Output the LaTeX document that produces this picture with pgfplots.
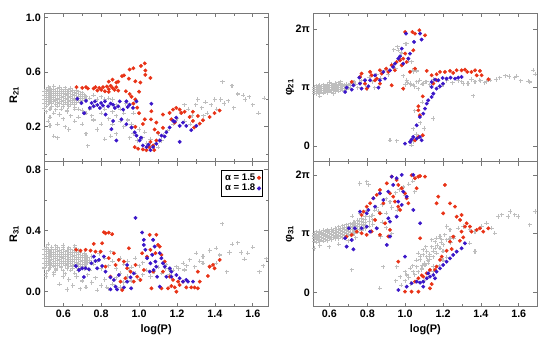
\documentclass[border=0pt]{standalone}
\usepackage{fontspec}
\setmainfont{Liberation Sans}
\usepackage{pgfplots}
\pgfplotsset{compat=1.18}

\definecolor{ptgray}{RGB}{190,190,190}
\definecolor{ptred}{RGB}{232,50,22}
\definecolor{ptblue}{RGB}{58,22,200}
\definecolor{framec}{RGB}{120,120,120}

\pgfplotsset{
  panel/.style={scale only axis, anchor=south west,
    axis line style={framec, line width=0.8bp},
    every tick/.style={framec, line width=0.7bp},
    major tick length=4bp, minor tick length=2.5bp,
    xtick={0.6,0.8,1.0,1.2,1.4,1.6},
    minor xtick={0.5,0.7,0.9,1.1,1.3,1.5,1.7},
    tick label style={font=\fontsize{10.8}{12}\selectfont\bfseries},
    label style={font=\fontsize{11}{12}\selectfont\bfseries},
    /pgf/number format/assume math mode=true,
    /pgf/number format/fixed, /pgf/number format/fixed zerofill,
    /pgf/number format/precision=1,
  },
  gr/.style={only marks, mark=+, mark size=2.1bp, color=ptgray,
    mark options={line width=1.05bp}, forget plot},
  rd/.style={only marks, mark=*, mark size=1.75bp, color=ptred,
    mark options={draw=ptred, fill=ptred}},
  bl/.style={only marks, mark=*, mark size=1.75bp, color=ptblue,
    mark options={draw=ptblue, fill=ptblue}},
}

\begin{document}
\begin{tikzpicture}
\path[use as bounding box] (0,0) rectangle (560bp,350bp);

% ---------------- R21 ----------------
\begin{axis}[panel, at={(44.3bp,188.3bp)}, width=223.7bp, height=148.4bp,
  xmin=0.5, xmax=1.68, ymin=-0.055, ymax=1.03,
  ytick={0.2,0.6,1.0}, minor ytick={0,0.4,0.8}, xticklabels={},
  ylabel={R\textsubscript{21}},
  ylabel style={at={(axis description cs:-0.135,0.45)}, anchor=center}]
\addplot[gr] coordinates {
(0.52,0.49)(0.55,0.495)(0.58,0.49)(0.61,0.485)(0.64,0.48)
(0.51,0.475)(0.53,0.48)(0.55,0.475)(0.57,0.478)(0.59,0.472)(0.61,0.476)(0.63,0.47)(0.65,0.468)(0.67,0.465)
(0.50,0.46)(0.52,0.462)(0.54,0.458)(0.56,0.46)(0.58,0.455)(0.60,0.46)(0.62,0.455)(0.64,0.458)(0.66,0.452)(0.68,0.455)(0.70,0.45)
(0.51,0.445)(0.53,0.44)(0.55,0.447)(0.57,0.442)(0.59,0.445)(0.61,0.44)(0.63,0.444)(0.65,0.438)(0.67,0.442)(0.69,0.438)(0.71,0.435)
(0.50,0.43)(0.52,0.428)(0.54,0.432)(0.56,0.427)(0.58,0.43)(0.60,0.425)(0.62,0.43)(0.64,0.425)(0.66,0.428)(0.68,0.422)(0.70,0.425)(0.72,0.42)
(0.51,0.415)(0.53,0.412)(0.55,0.416)(0.57,0.41)(0.59,0.414)(0.61,0.41)(0.63,0.413)(0.65,0.408)(0.67,0.41)(0.69,0.405)(0.71,0.408)
(0.50,0.40)(0.52,0.398)(0.54,0.402)(0.56,0.396)(0.58,0.40)(0.60,0.395)(0.62,0.398)(0.64,0.393)(0.66,0.396)(0.68,0.392)(0.70,0.39)
(0.51,0.385)(0.53,0.382)(0.55,0.386)(0.57,0.38)(0.59,0.384)(0.61,0.378)(0.63,0.382)(0.65,0.376)(0.67,0.379)(0.69,0.375)
(0.50,0.37)(0.52,0.366)(0.54,0.37)(0.56,0.364)(0.58,0.368)(0.60,0.362)(0.62,0.366)(0.64,0.36)(0.66,0.362)
(0.51,0.352)(0.54,0.348)(0.57,0.35)(0.60,0.346)(0.63,0.348)(0.66,0.342)
(0.50,0.335)(0.53,0.33)(0.56,0.325)(0.59,0.33)(0.62,0.322)(0.68,0.33)
(0.51,0.31)(0.55,0.30)(0.53,0.27)(0.58,0.29)(0.62,0.31)(0.66,0.33)(0.70,0.32)(0.52,0.24)(0.57,0.22)(0.60,0.26)
(0.64,0.28)(0.68,0.27)(0.72,0.30)(0.75,0.28)(0.55,0.13)(0.57,0.12)(0.63,0.18)(0.70,0.22)(0.72,0.15)(0.73,0.06)
(0.78,0.18)(0.80,0.22)(0.76,0.25)(0.53,0.21)(0.61,0.20)(0.66,0.24)
(0.72,0.40)(0.74,0.41)(0.76,0.43)(0.78,0.40)(0.80,0.42)(0.82,0.40)(0.84,0.41)(0.86,0.40)(0.78,0.36)(0.82,0.33)
(0.86,0.31)(0.88,0.28)(0.90,0.33)(0.92,0.30)(0.94,0.25)(0.96,0.22)(0.98,0.20)(0.90,0.24)(0.92,0.20)(0.86,0.22)
(0.84,0.26)(0.82,0.11)(0.85,0.13)(0.88,0.15)(0.95,0.12)(0.97,0.15)(0.99,0.10)(1.00,0.18)(1.02,0.12)(1.04,0.08)
(1.06,0.05)(1.08,0.07)(1.10,0.05)(1.12,0.10)(1.13,0.14)(1.15,0.17)(1.10,0.15)(0.76,0.35)(0.93,0.37)(0.97,0.30)
(0.80,0.30)(0.74,0.33)(0.88,0.36)(1.03,0.16)(1.06,0.11)
(1.18,0.22)(1.20,0.26)(1.22,0.30)(1.24,0.24)(1.26,0.33)(1.28,0.28)(1.30,0.36)(1.31,0.40)(1.33,0.34)(1.35,0.38)
(1.36,0.30)(1.38,0.36)(1.40,0.40)(1.41,0.33)(1.43,0.40)(1.44,0.53)(1.45,0.37)(1.47,0.39)(1.49,0.50)(1.50,0.34)
(1.52,0.44)(1.55,0.43)(1.56,0.40)(1.58,0.42)(1.60,0.36)(1.63,0.30)(1.66,0.41)(1.34,0.28)(1.27,0.22)(1.24,0.36)
};
\addplot[rd] coordinates {
(0.67,0.49)(0.70,0.485)(0.72,0.49)(0.73,0.48)(0.76,0.48)(0.77,0.49)(0.79,0.485)(0.80,0.47)(0.81,0.49)(0.82,0.46)
(0.83,0.495)(0.84,0.475)(0.85,0.50)(0.86,0.485)(0.87,0.47)(0.88,0.49)(0.89,0.465)(0.78,0.465)(0.84,0.455)(0.88,0.524)
(0.84,0.53)(0.86,0.545)(0.89,0.53)(0.91,0.571)(0.92,0.576)(0.95,0.619)(0.946,0.552)(0.97,0.628)(0.98,0.533)(1.01,0.645)
(1.007,0.524)(1.03,0.664)(1.033,0.612)(1.033,0.58)(1.06,0.557)(0.93,0.46)(0.95,0.44)(0.96,0.42)(0.98,0.40)(0.97,0.37)
(0.99,0.34)(1.00,0.457)(1.065,0.314)(1.063,0.254)(1.03,0.255)(1.00,0.30)(1.02,0.22)(0.98,0.20)(0.977,0.052)(0.995,0.04)
(1.02,0.035)(1.039,0.029)(1.053,0.052)(1.074,0.064)(1.091,0.10)(1.06,0.09)(1.08,0.03)(1.082,0.181)(1.10,0.157)(1.126,0.193)
(1.091,0.231)(1.126,0.29)(1.161,0.302)(1.179,0.326)(1.196,0.338)(1.214,0.326)(1.223,0.302)(1.24,0.31)(1.284,0.31)(1.31,0.279)
(1.337,0.248)(1.32,0.224)(1.372,0.272)(1.398,0.30)(1.425,0.319)(1.17,0.255)(1.188,0.231)(1.267,0.272)(1.284,0.243)(1.29,0.195)
};
\addplot[bl] coordinates {
(0.674,0.405)(0.696,0.374)(0.72,0.39)(0.74,0.338)(0.75,0.374)(0.767,0.386)(0.793,0.338)(0.80,0.374)(0.82,0.386)(0.837,0.35)
(0.863,0.362)(0.872,0.338)(0.89,0.35)(0.898,0.386)(0.916,0.326)(0.933,0.386)(0.95,0.362)(0.968,0.338)(0.986,0.386)(1.065,0.369)
(0.71,0.30)(0.823,0.29)(0.863,0.243)(0.854,0.183)(0.88,0.10)(0.907,0.255)(0.933,0.219)(0.96,0.195)(0.977,0.16)(0.986,0.136)
(1.003,0.10)(1.02,0.064)(1.039,0.052)(1.05,0.07)(1.074,0.052)(1.091,0.076)(1.109,0.10)(1.118,0.136)(1.135,0.129)(1.144,0.16)
(1.161,0.195)(1.188,0.238)(1.214,0.207)(1.232,0.231)(1.249,0.207)(1.275,0.176)(1.302,0.207)(1.214,0.09)(1.196,0.267)(1.18,0.243)
(0.78,0.36)(0.81,0.355)(0.85,0.37)(0.76,0.35)(0.94,0.345)(1.01,0.12)(1.06,0.03)
};
\end{axis}

% ---------------- R31 ----------------
\begin{axis}[panel, at={(44.3bp,43.3bp)}, width=223.7bp, height=145bp,
  xmin=0.5, xmax=1.68, ymin=-0.098, ymax=0.85,
  ytick={0,0.4,0.8}, minor ytick={0.2,0.6},
  xlabel={log(P)}, ylabel={R\textsubscript{31}},
  xlabel style={at={(axis description cs:0.5,0)}, anchor=center, yshift=-23bp},
  ylabel style={at={(axis description cs:-0.135,0.5)}, anchor=center},
  legend style={at={(0.978,0.943)}, anchor=north east, draw=black, line width=0.6bp,
    font=\fontsize{9.6}{10.5}\selectfont\bfseries, inner xsep=2bp, inner ysep=1.5bp,
    row sep=-1.5bp},
  legend plot pos=right, legend cell align=left]
\addplot[gr] coordinates {
(0.51,0.29)(0.54,0.292)(0.57,0.288)(0.60,0.29)(0.63,0.286)(0.66,0.288)
(0.50,0.275)(0.52,0.278)(0.54,0.273)(0.56,0.276)(0.58,0.272)(0.60,0.275)(0.62,0.27)(0.64,0.273)(0.66,0.268)(0.68,0.27)
(0.51,0.26)(0.53,0.262)(0.55,0.258)(0.57,0.261)(0.59,0.257)(0.61,0.26)(0.63,0.256)(0.65,0.258)(0.67,0.254)(0.69,0.256)(0.71,0.252)
(0.50,0.245)(0.52,0.247)(0.54,0.243)(0.56,0.246)(0.58,0.242)(0.60,0.245)(0.62,0.241)(0.64,0.243)(0.66,0.239)(0.68,0.241)(0.70,0.237)(0.72,0.238)
(0.51,0.23)(0.53,0.232)(0.55,0.228)(0.57,0.231)(0.59,0.227)(0.61,0.23)(0.63,0.226)(0.65,0.228)(0.67,0.224)(0.69,0.226)(0.71,0.222)(0.73,0.223)
(0.50,0.215)(0.52,0.217)(0.54,0.213)(0.56,0.216)(0.58,0.212)(0.60,0.215)(0.62,0.211)(0.64,0.213)(0.66,0.209)(0.68,0.211)(0.70,0.207)(0.72,0.209)(0.74,0.205)
(0.51,0.20)(0.53,0.202)(0.55,0.198)(0.57,0.201)(0.59,0.197)(0.61,0.20)(0.63,0.196)(0.65,0.198)(0.67,0.194)(0.69,0.196)(0.71,0.192)(0.73,0.193)
(0.50,0.185)(0.52,0.187)(0.54,0.183)(0.56,0.186)(0.58,0.182)(0.60,0.185)(0.62,0.181)(0.64,0.183)(0.66,0.179)(0.68,0.181)(0.70,0.177)(0.72,0.178)
(0.51,0.17)(0.53,0.172)(0.55,0.168)(0.57,0.171)(0.59,0.167)(0.61,0.17)(0.63,0.166)(0.65,0.168)(0.67,0.164)(0.69,0.166)(0.71,0.162)
(0.50,0.155)(0.53,0.157)(0.56,0.153)(0.59,0.156)(0.62,0.152)(0.65,0.154)(0.68,0.15)(0.71,0.152)
(0.52,0.14)(0.56,0.142)(0.60,0.138)(0.64,0.14)(0.68,0.136)
(0.51,0.12)(0.55,0.123)(0.61,0.118)(0.66,0.12)
(0.52,0.31)(0.56,0.30)(0.60,0.305)(0.66,0.30)(0.51,0.10)(0.55,0.11)(0.60,0.10)(0.63,0.08)(0.67,0.10)(0.70,0.07)
(0.58,0.05)(0.65,0.04)(0.72,0.03)(0.75,0.06)(0.77,0.09)(0.80,0.04)(0.82,0.08)(0.84,0.02)(0.86,0.05)(0.88,0.09)
(0.90,0.03)(0.92,0.06)(0.94,0.10)(0.96,0.07)(0.98,0.12)(1.00,0.08)(1.02,0.11)(1.04,0.14)(1.06,0.10)(1.08,0.13)
(1.10,0.16)(1.12,0.12)(1.14,0.15)(1.16,0.11)(1.18,0.14)(0.74,0.14)(0.76,0.18)(0.78,0.20)(0.80,0.15)(0.82,0.22)
(0.84,0.17)(0.86,0.20)(0.88,0.15)(0.90,0.22)(0.92,0.18)(0.94,0.20)(0.96,0.16)(0.98,0.22)(1.00,0.17)(0.79,0.25)
(0.85,0.26)(0.75,0.23)(0.73,0.11)(0.90,0.12)(0.95,0.14)(0.62,0.015)(0.69,0.02)(0.78,0.01)(0.83,0.03)(1.02,0.19)
(1.439,0.444)(1.491,0.311)(1.521,0.321)(1.574,0.252)(1.407,0.285)(1.372,0.269)(1.425,0.24)(1.477,0.256)(1.539,0.256)(1.556,0.212)
(1.463,0.131)(1.635,0.131)(1.671,0.216)(1.302,0.252)(1.337,0.23)(1.267,0.208)(1.232,0.186)(1.197,0.164)(1.337,0.186)(1.293,0.164)
(1.24,0.142)(1.372,0.164)(1.407,0.186)(1.162,0.142)(1.144,0.175)(1.25,0.17)(1.32,0.2)(1.21,0.15)(1.6,0.29)(1.655,0.17)
};
\addplot[rd] coordinates {
(0.668,0.274)(0.691,0.269)(0.718,0.274)(0.744,0.269)(0.77,0.262)(0.797,0.262)(0.814,0.389)(0.823,0.382)(0.84,0.386)(0.858,0.376)
(0.761,0.313)(0.805,0.317)(0.946,0.284)(0.867,0.251)(0.84,0.219)(0.823,0.164)(0.876,0.175)(0.893,0.208)(0.92,0.197)(0.937,0.153)
(0.955,0.131)(0.911,0.011)(0.972,0.066)(0.99,0.098)(0.981,0.175)(1.025,0.142)(1.007,0.077)(1.042,0.229)(1.016,0.252)(0.902,0.066)
(0.928,0.088)(0.849,0.098)(1.056,0.372)(1.091,0.372)(1.10,0.306)(1.109,0.295)(1.118,0.241)(1.135,0.197)(1.074,0.131)(1.065,0.022)
(1.118,0.022)(1.153,0.022)(1.17,0.037)(1.188,0.028)(1.197,0.0)(1.162,0.098)(1.179,0.077)(1.214,0.044)(1.232,0.066)(1.249,0.028)
(1.275,0.028)(1.293,0.028)(1.31,0.022)(1.31,0.131)(1.32,0.066)(1.363,0.103)(1.372,0.164)(1.39,0.175)(1.398,0.153)(1.425,0.208)
(1.206,0.066)(1.126,0.131)(1.06,0.274)(1.086,0.252)
};
\addlegendentry{α = 1.5}
\addplot[bl] coordinates {
(0.667,0.168)(0.683,0.142)(0.70,0.153)(0.718,0.153)(0.735,0.147)(0.709,0.096)(0.748,0.186)(0.77,0.201)(0.788,0.208)(0.805,0.168)
(0.779,0.153)(0.823,0.131)(0.849,0.094)(0.867,0.077)(0.876,0.033)(0.884,0.015)(0.849,0.015)(0.92,0.028)(0.937,0.066)(0.955,0.094)
(0.972,0.12)(0.981,0.483)(1.016,0.387)(1.025,0.306)(1.033,0.274)(1.042,0.219)(1.06,0.186)(1.077,0.142)(1.095,0.098)(1.086,0.197)
(1.069,0.241)(1.025,0.339)(0.937,0.175)(0.893,0.109)(0.814,0.23)(0.761,0.23)(0.958,0.022)(1.074,0.339)(1.082,0.295)(1.109,0.252)
(1.118,0.219)(1.126,0.186)(1.135,0.164)(1.162,0.153)(1.17,0.131)(1.17,0.098)(1.197,0.109)(1.214,0.088)(1.232,0.066)(1.249,0.077)
(1.258,0.066)(1.284,0.066)(1.144,0.098)(1.109,0.033)(1.056,0.131)(1.091,0.164)
};
\addlegendentry{α = 1.8}
\end{axis}

% ---------------- phi21 (y in units of pi) ----------------
\begin{axis}[panel, at={(313.3bp,188.3bp)}, width=224bp, height=148.4bp,
  xmin=0.515, xmax=1.698, ymin=-0.27, ymax=2.274,
  ytick={0,1,2}, yticklabels={0,π,2π}, xticklabels={},
  ylabel={φ\textsubscript{21}},
  ylabel style={at={(axis description cs:-0.104,0.5)}, anchor=center}]
\addplot[gr] coordinates {
(0.51,0.884)(0.51,0.919)(0.51,0.954)(0.51,0.989)(0.51,1.024)
(0.53,0.892)(0.53,0.927)(0.53,0.962)(0.53,0.997)(0.53,1.032)
(0.55,0.90)(0.55,0.935)(0.55,0.97)(0.55,1.005)(0.55,1.04)
(0.57,0.908)(0.57,0.943)(0.57,0.978)(0.57,1.013)(0.57,1.048)
(0.59,0.916)(0.59,0.951)(0.59,0.986)(0.59,1.021)(0.59,1.056)
(0.61,0.924)(0.61,0.959)(0.61,0.994)(0.61,1.029)(0.61,1.064)
(0.63,0.932)(0.63,0.967)(0.63,1.002)(0.63,1.037)(0.63,1.072)
(0.65,0.94)(0.65,0.975)(0.65,1.01)(0.65,1.045)(0.65,1.08)
(0.67,0.958)(0.67,0.99)(0.67,1.018)(0.67,1.05)
(0.69,0.97)(0.69,1.00)(0.69,1.03)(0.69,1.06)
(0.71,0.99)(0.71,1.034)(0.71,1.07)
(0.50,0.898)(0.50,0.933)(0.50,0.967)(0.50,1.002)
(0.52,0.906)(0.52,0.941)(0.52,0.975)(0.52,1.01)
(0.54,0.914)(0.54,0.949)(0.54,0.983)(0.54,1.018)
(0.56,0.922)(0.56,0.957)(0.56,0.991)(0.56,1.026)
(0.58,0.93)(0.58,0.965)(0.58,0.999)(0.58,1.034)
(0.60,0.938)(0.60,0.973)(0.60,1.007)(0.60,1.042)
(0.62,0.946)(0.62,0.981)(0.62,1.015)(0.62,1.05)
(0.64,0.954)(0.64,0.989)(0.64,1.023)(0.64,1.058)
(0.66,0.962)(0.66,0.997)(0.66,1.031)(0.66,1.066)
(0.68,0.99)(0.68,1.039)(0.70,1.00)(0.70,1.05)
(0.55,0.85)(0.62,0.90)(0.72,1.08)(0.74,1.06)(0.60,1.09)(0.66,1.10)
(0.73,1.10)(0.75,1.00)(0.77,1.12)(0.79,1.05)(0.81,1.18)(0.83,1.10)(0.85,1.22)(0.87,1.16)(0.89,1.30)(0.91,1.22)
(0.93,1.40)(0.95,1.32)(0.97,1.50)(0.96,1.70)(0.94,1.65)(0.98,1.60)(1.00,1.75)(1.02,1.45)(1.04,1.30)(1.06,1.28)
(0.99,1.20)(1.01,1.08)(1.03,1.05)(1.05,1.02)(1.07,1.10)(1.09,1.06)(1.11,1.10)(1.13,1.05)(0.99,0.98)(1.00,1.05)
(0.76,1.08)(0.80,0.98)(0.84,1.00)(0.964,1.64)(0.982,1.583)(1.008,1.754)(1.034,1.44)(1.043,1.27)(1.061,1.297)(1.008,1.126)
(1.026,1.069)(1.043,1.04)(1.061,1.097)(1.078,1.126)(1.096,1.069)(1.114,1.097)(1.07,0.983)
(1.20,1.05)(1.25,1.08)(1.30,1.10)(1.33,1.07)(1.37,1.10)(1.40,1.12)(1.43,1.10)(1.45,1.13)(1.48,1.14)(1.50,1.17)
(1.53,1.20)(1.55,1.19)(1.58,1.17)(1.61,1.12)(1.65,1.11)(1.677,1.297)(1.686,1.229)(1.36,0.86)(1.28,1.12)(1.22,1.12)
(1.15,1.14)(1.35,1.14)(1.42,1.08)(1.18,1.02)(1.307,1.069)(1.589,1.194)(1.659,1.096)(1.334,1.069)(1.369,1.097)(1.395,1.126)
(1.05,0.60)(1.08,0.40)(1.10,0.30)(1.149,0.469)(1.043,0.297)(1.034,0.011)(1.043,0.069)(0.92,0.097)(0.955,0.086)(1.06,0.20)(1.09,0.75)
};
\addplot[rd] coordinates {
(0.718,1.097)(0.762,1.183)(0.77,1.24)(0.815,1.27)(0.823,1.21)(0.85,1.154)(0.867,1.297)(0.876,1.24)(0.90,1.326)(0.911,1.27)
(0.929,1.383)(0.946,1.297)(0.955,1.44)(0.973,1.469)(0.982,1.383)(0.99,1.497)(1.008,1.44)(1.00,1.583)(1.026,1.27)(1.052,1.326)
(0.99,0.983)(0.929,1.04)(0.797,0.983)(0.841,1.126)(0.788,1.069)(0.867,1.069)
(1.00,1.954)(1.038,1.954)(1.052,1.926)(1.075,1.983)(1.105,1.897)(1.043,1.64)
(1.114,1.286)(1.14,1.211)(1.166,1.229)(1.184,1.269)(1.21,1.269)(1.237,1.286)(1.254,1.251)(1.272,1.297)(1.298,1.297)(1.316,1.309)
(1.328,1.269)(1.35,1.269)(1.378,1.211)(1.404,1.211)(1.44,1.143)(1.395,1.286)(1.369,1.297)
(1.093,0.851)(1.07,0.68)(1.07,0.611)(1.078,0.526)(1.093,0.183)(1.07,0.154)(1.052,0.097)(1.149,1.069)(1.166,1.126)
};
\addplot[bl] coordinates {
(0.683,0.926)(0.691,1.00)(0.718,0.966)(0.727,1.04)(0.758,1.171)(0.762,1.069)(0.77,0.983)(0.788,1.126)(0.806,1.023)(0.815,1.126)
(0.841,1.211)(0.859,1.00)(0.867,1.126)(0.885,1.269)(0.894,1.154)(0.92,1.297)(0.937,1.354)(0.946,1.411)(0.964,1.497)(0.973,1.537)
(0.99,1.411)(1.017,1.497)(0.982,1.669)(1.026,1.583)(1.047,1.783)(1.079,1.926)(1.005,1.926)(1.087,1.823)
(1.14,1.097)(1.158,1.137)(1.175,1.126)(1.198,1.166)(1.219,1.154)(1.24,1.171)(1.263,1.154)(1.28,1.171)(1.298,1.183)(1.14,1.011)
(1.166,0.983)(1.184,1.023)(1.20,1.069)
(1.149,0.897)(1.14,0.84)(1.122,0.783)(1.114,0.726)(1.105,0.64)(1.096,0.554)(1.078,0.497)(1.061,0.354)(1.043,0.154)(1.034,0.109)
(1.061,0.126)(1.087,0.097)(0.999,0.04)(1.026,0.069)(1.078,0.154)
};
\end{axis}

% ---------------- phi31 (y in units of pi) ----------------
\begin{axis}[panel, at={(313.3bp,43.3bp)}, width=224bp, height=145bp,
  xmin=0.515, xmax=1.698, ymin=-0.246, ymax=2.232,
  ytick={0,1,2}, yticklabels={0,π,2π},
  xlabel={log(P)}, ylabel={φ\textsubscript{31}},
  xlabel style={at={(axis description cs:0.5,0)}, anchor=center, yshift=-23bp},
  ylabel style={at={(axis description cs:-0.104,0.5)}, anchor=center}]
\addplot[gr] coordinates {
(0.51,0.845)(0.51,0.89)(0.51,0.935)(0.51,0.98)(0.51,1.025)
(0.53,0.855)(0.53,0.90)(0.53,0.945)(0.53,0.99)(0.53,1.035)
(0.55,0.865)(0.55,0.91)(0.55,0.955)(0.55,1.00)(0.55,1.045)
(0.57,0.875)(0.57,0.92)(0.57,0.965)(0.57,1.01)(0.57,1.055)
(0.59,0.885)(0.59,0.93)(0.59,0.975)(0.59,1.02)(0.59,1.065)
(0.61,0.898)(0.61,0.943)(0.61,0.988)(0.61,1.033)(0.61,1.078)
(0.63,0.914)(0.63,0.959)(0.63,1.004)(0.63,1.049)(0.63,1.094)
(0.65,0.92)(0.65,0.97)(0.65,1.02)(0.65,1.07)(0.65,1.12)
(0.67,0.936)(0.67,0.986)(0.67,1.036)(0.67,1.086)(0.67,1.136)
(0.69,0.952)(0.69,1.002)(0.69,1.052)(0.69,1.102)(0.69,1.152)
(0.71,0.974)(0.71,1.024)(0.71,1.074)(0.71,1.124)(0.71,1.174)
(0.73,1.00)(0.73,1.05)(0.73,1.10)(0.73,1.15)(0.73,1.20)
(0.75,1.03)(0.75,1.08)(0.75,1.13)(0.75,1.18)(0.75,1.23)
(0.77,1.06)(0.77,1.11)(0.77,1.16)(0.77,1.21)(0.77,1.26)
(0.79,1.09)(0.79,1.14)(0.79,1.19)(0.79,1.24)(0.79,1.29)
(0.81,1.13)(0.81,1.21)(0.81,1.29)(0.83,1.16)(0.83,1.24)(0.83,1.32)
(0.50,0.863)(0.50,0.908)(0.50,0.952)(0.50,0.997)
(0.52,0.873)(0.52,0.918)(0.52,0.962)(0.52,1.007)
(0.54,0.883)(0.54,0.928)(0.54,0.972)(0.54,1.017)
(0.56,0.893)(0.56,0.938)(0.56,0.982)(0.56,1.027)
(0.58,0.903)(0.58,0.948)(0.58,0.992)(0.58,1.037)
(0.60,0.913)(0.60,0.958)(0.60,1.002)(0.60,1.047)
(0.62,0.929)(0.62,0.974)(0.62,1.018)(0.62,1.063)
(0.64,0.945)(0.64,0.99)(0.64,1.034)(0.64,1.079)
(0.66,0.961)(0.66,1.006)(0.66,1.05)(0.66,1.095)
(0.68,0.977)(0.68,1.022)(0.68,1.066)(0.68,1.111)
(0.70,0.993)(0.70,1.038)(0.70,1.082)(0.70,1.127)
(0.72,1.02)(0.72,1.066)(0.72,1.11)(0.72,1.155)
(0.74,1.05)(0.74,1.094)(0.74,1.138)(0.74,1.183)
(0.76,1.077)(0.76,1.122)(0.76,1.166)(0.76,1.211)
(0.78,1.105)(0.78,1.15)(0.78,1.194)(0.78,1.239)
(0.55,0.80)(0.60,0.78)(0.65,0.82)(0.52,0.75)(0.70,0.88)(0.74,0.93)(0.82,1.05)(0.85,1.10)(0.88,1.20)(0.86,1.38)
(0.80,1.40)(0.72,1.30)(0.76,1.35)(0.718,0.382)(0.867,0.068)(0.90,1.10)(0.93,1.00)(0.87,0.95)
(0.85,1.45)(0.88,1.50)(0.90,1.60)(0.92,1.55)(0.95,1.70)(0.97,1.75)(0.99,1.80)(1.00,1.65)(1.02,1.85)(0.87,1.35)
(0.84,1.40)(0.82,1.30)(0.90,1.35)(0.93,1.45)(0.96,1.40)(1.04,1.90)(1.05,1.72)(0.76,1.86)(0.797,1.89)(0.806,1.835)
(1.184,0.954)(1.219,1.125)(1.237,1.068)(1.256,0.926)(1.202,0.812)(1.158,0.755)(1.114,0.698)(1.096,0.641)(1.131,0.612)(1.167,0.67)
(1.105,0.47)(1.088,0.414)(1.149,0.441)(1.281,1.097)(1.307,1.125)(1.342,1.068)(1.369,1.04)(1.404,1.125)(1.43,1.183)(1.457,1.097)
(1.474,1.012)(1.492,1.296)(1.51,1.325)(1.545,1.296)(1.554,1.381)(1.58,1.325)(1.597,1.296)(1.659,1.154)(1.686,1.381)(1.369,0.698)
(1.342,0.84)(1.096,0.724)(1.114,0.61)(1.14,0.781)(1.158,0.866)(1.166,0.923)(1.193,0.895)(1.21,0.98)(1.237,0.923)(1.079,0.553)
(1.105,0.467)(1.061,0.439)(1.043,0.353)(1.008,0.296)(0.973,0.268)(1.026,0.41)(1.087,0.382)(1.131,0.553)(1.149,0.61)(1.166,0.667)
(1.184,0.752)(0.885,0.439)(0.955,0.439)(1.122,0.496)(1.07,0.667)
(1.00,0.20)(1.02,0.25)(1.05,0.30)(1.07,0.35)(1.09,0.45)(1.10,0.50)(1.12,0.55)(1.13,0.65)(1.15,0.70)(1.17,0.80)
(1.19,0.85)(1.20,0.70)(1.22,0.90)(1.24,0.85)(1.26,0.95)(1.00,0.35)(1.04,0.45)(1.06,0.55)(1.08,0.62)(1.11,0.78)
(1.14,0.90)(1.03,0.15)(0.98,0.12)(0.95,0.20)(1.10,0.20)(1.12,0.25)(1.15,0.35)(1.18,0.45)(1.20,0.55)(1.22,0.60)
};
\addplot[rd] coordinates {
(0.903,1.863)(0.929,1.977)(0.955,1.92)(0.964,1.835)(0.982,1.778)(0.999,1.692)(1.008,1.607)(1.017,1.521)(1.034,2.00)(1.052,1.949)
(1.07,1.977)(1.079,1.989)(1.105,1.977)(1.061,1.778)(0.867,1.749)(0.85,1.664)(0.832,1.607)(0.815,1.521)(0.797,1.464)(0.78,1.379)
(0.77,1.322)(0.92,1.692)(0.937,1.635)(0.946,1.55)(0.964,1.464)(0.973,1.407)(0.885,1.521)(0.867,1.35)(0.841,1.236)(0.894,1.179)
(0.92,1.066)(0.911,0.954)(0.867,0.983)(0.823,1.04)(0.797,0.983)(0.77,1.009)(0.744,1.037)(0.718,0.98)(0.69,0.952)(0.964,0.524)
(1.079,0.923)(0.999,0.011)(1.034,0.011)(1.07,0.011)(1.131,0.068)
(1.21,1.835)(1.175,1.635)(1.166,1.521)(1.201,1.35)(1.237,1.521)(1.263,1.464)(1.272,1.293)(1.298,1.322)(1.29,1.236)(1.325,1.179)
(1.316,1.123)(1.342,1.123)(1.35,1.037)(1.378,1.066)(1.395,1.094)(1.413,1.037)(1.439,1.094)(1.298,1.037)(1.254,0.95)(1.237,0.866)
(1.193,0.61)(1.184,0.553)(1.166,0.439)(1.131,0.382)(1.114,0.325)(1.096,0.268)(1.07,0.239)(1.052,0.182)(1.158,0.382)(1.14,0.14)
(1.088,0.29)(1.219,0.71)(1.246,0.74)(1.289,0.88)(1.307,0.94)
};
\addplot[bl] coordinates {
(0.929,1.977)(0.955,1.949)(0.982,2.006)(1.043,2.006)(0.937,1.835)(0.867,1.692)(0.832,1.607)(0.841,1.464)(0.806,1.407)(0.797,1.35)
(0.762,1.379)(0.911,1.721)(0.885,1.578)(0.99,1.721)(1.008,1.635)(0.964,1.55)(0.982,1.493)(1.043,1.407)(0.911,1.265)(0.955,1.293)
(0.703,1.094)(0.735,1.094)(0.77,1.094)(0.797,1.123)(0.85,1.094)(0.92,0.954)(0.683,0.923)(0.718,0.894)(0.815,1.037)(0.691,0.781)
(0.727,0.735)(0.92,1.208)(0.903,0.809)(1.079,1.18)(0.999,0.61)(0.964,0.04)(1.034,0.154)(1.061,0.182)(1.079,0.165)(1.096,0.182)
(1.114,0.239)(1.131,0.268)(1.149,0.296)(1.166,0.353)(1.184,0.41)(1.201,0.467)(1.219,0.524)(1.237,0.581)(1.254,0.638)(1.272,0.695)
(1.298,0.752)(1.316,0.838)(1.096,0.097)(1.158,0.239)(1.008,0.097)(1.122,0.325)
};
\end{axis}
\end{tikzpicture}
\end{document}
